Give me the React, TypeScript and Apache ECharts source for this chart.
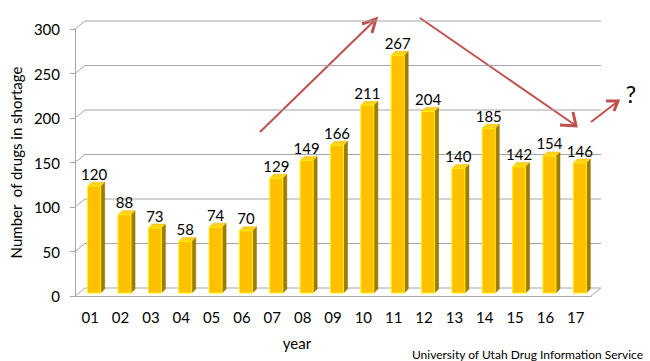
import React, { useEffect, useRef } from "react";
import * as echarts from "echarts";

const years = ["01", "02", "03", "04", "05", "06", "07", "08", "09", "10", "11", "12", "13", "14", "15", "16", "17"];
const shortages = [120, 88, 73, 58, 74, 70, 129, 149, 166, 211, 267, 204, 140, 185, 142, 154, 146];
const yTicks = [0, 50, 100, 150, 200, 250, 300];

const DEPTH_X = 10;
const DEPTH_Y = -8;
const GRID_COLOR = "#A6A6A6";
const FONT = "Lato";
const ARROW = "#C0504D";

export default function App() {
  const ref = useRef<HTMLDivElement>(null);

  useEffect(() => {
    const chart = echarts.init(ref.current!, null, { renderer: "svg" });

    const wall = (params: any, api: any) => {
      const cs = params.coordSys;
      const v = api.value(1);
      const y = api.coord([0, v])[1];
      const x0 = cs.x;
      const x1 = cs.x + cs.width;
      const style = { stroke: GRID_COLOR, lineWidth: 1, fill: null };
      const children: any[] = [
        { type: "line", shape: { x1: x0, y1: y, x2: x0 + DEPTH_X, y2: y + DEPTH_Y }, style },
        { type: "line", shape: { x1: x0 + DEPTH_X, y1: y + DEPTH_Y, x2: x1 + DEPTH_X, y2: y + DEPTH_Y }, style },
      ];
      if (v === 0) {
        children.push({ type: "line", shape: { x1: x1, y1: y, x2: x1 + DEPTH_X, y2: y + DEPTH_Y }, style });
      }
      return { type: "group", children };
    };

    const bar = (params: any, api: any) => {
      const idx = api.value(0);
      const v = api.value(1);
      const [cx, yTop] = api.coord([idx, v]);
      const yBase = api.coord([idx, 0])[1];
      const w = 13;
      const d = 4;
      const fx = cx + 4 - w / 2;
      const fy = yTop - 3;
      const h = yBase - yTop;
      return {
        type: "group",
        children: [
          {
            type: "polygon",
            shape: { points: [[fx + w, fy], [fx + w + d, fy - d], [fx + w + d, fy + h - d], [fx + w, fy + h]] },
            style: { fill: "#A07C00", stroke: "#8A6A00", lineWidth: 0.5 },
          },
          {
            type: "polygon",
            shape: { points: [[fx, fy], [fx + d, fy - d], [fx + w + d, fy - d], [fx + w, fy]] },
            style: { fill: "#FFD21F", stroke: "#E6B800", lineWidth: 0.5 },
          },
          {
            type: "rect",
            shape: { x: fx, y: fy, width: w, height: h },
            style: { fill: "#FFC000", stroke: "#FFF200", lineWidth: 1 },
          },
          {
            type: "text",
            style: {
              text: String(v),
              x: fx + w / 2,
              y: fy - 5,
              align: "center",
              verticalAlign: "bottom",
              fontSize: 15,
              fontFamily: FONT,
              fill: "#000",
            },
          },
        ],
      };
    };

    const arrowLine = (pts: number[][]) => ({
      type: "polyline",
      shape: { points: pts },
      style: { stroke: ARROW, lineWidth: 2, fill: null },
      silent: true,
    });
    const arrowHead = (pts: number[][]) => ({
      type: "polyline",
      shape: { points: pts },
      style: { stroke: ARROW, lineWidth: 3, fill: null, lineJoin: "miter" },
      silent: true,
    });

    chart.setOption({
      animation: false,
      grid: { left: 67, top: 29, width: 524, height: 267 },
      xAxis: {
        type: "category",
        data: years,
        axisLine: { lineStyle: { color: GRID_COLOR } },
        axisTick: { length: 6, lineStyle: { color: GRID_COLOR } },
        axisLabel: { margin: 13, fontSize: 15, color: "#000", fontFamily: FONT },
      },
      yAxis: {
        type: "value",
        min: 0,
        max: 300,
        interval: 50,
        name: "Number  of drugs in shortage",
        nameLocation: "middle",
        nameGap: 45,
        nameTextStyle: { fontSize: 15, color: "#000", fontFamily: FONT },
        axisLine: { show: true, lineStyle: { color: GRID_COLOR } },
        axisTick: { show: true, length: 5, lineStyle: { color: GRID_COLOR } },
        splitLine: { show: false },
        axisLabel: { margin: 15, fontSize: 15, color: "#000", fontFamily: FONT },
      },
      series: [
        {
          type: "custom",
          data: yTicks.map((v) => [0, v]),
          renderItem: wall,
          silent: true,
          z: 1,
        },
        {
          type: "custom",
          data: shortages.map((v, i) => [i, v]),
          renderItem: bar,
          z: 2,
        },
      ],
      graphic: [
        arrowLine([[260, 132], [375, 20]]),
        arrowHead([[362, 24], [376, 19], [372, 33]]),
        arrowLine([[420, 18], [575, 125]]),
        arrowHead([[560, 125], [576, 126], [573, 112]]),
        arrowLine([[591, 122], [617, 102]]),
        arrowHead([[606, 101], [618, 101], [614, 111]]),
        {
          type: "text",
          style: { text: "?", x: 631, y: 94, align: "center", verticalAlign: "middle", fontSize: 23, fontFamily: FONT, fill: "#000" },
        },
        {
          type: "text",
          style: { text: "year", x: 297, y: 343, align: "center", verticalAlign: "middle", fontSize: 15, fontFamily: FONT, fill: "#000" },
        },
        {
          type: "text",
          style: {
            text: "University of Utah Drug Information Service",
            x: 643,
            y: 354,
            align: "right",
            verticalAlign: "middle",
            fontSize: 12,
            fontFamily: FONT,
            fill: "#000",
          },
        },
      ],
    });

    return () => chart.dispose();
  }, []);

  return (
    <div
      ref={ref}
      style={{ position: "fixed", left: 0, top: 0, width: 650, height: 361, background: "#fff" }}
    />
  );
}
